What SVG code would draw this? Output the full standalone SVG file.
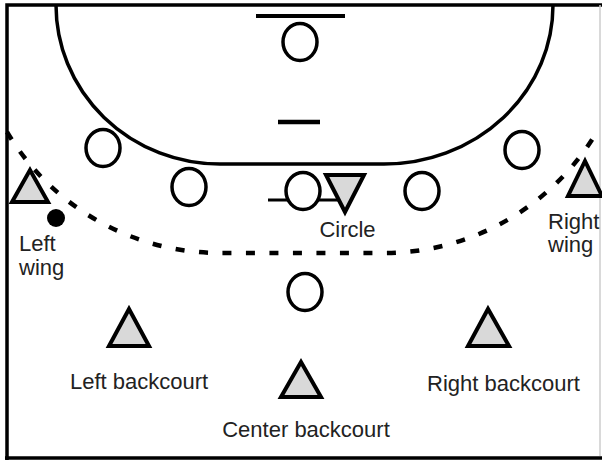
<svg xmlns="http://www.w3.org/2000/svg" width="602" height="460" viewBox="0 0 602 460">
<style>
.line{fill:none;stroke:#000;stroke-width:3.5}
.dash{fill:none;stroke:#000;stroke-width:4.5;stroke-dasharray:9 14.5}
.def{fill:#fff;stroke:#000;stroke-width:3.5}
.att{fill:#d9d9d9;stroke:#000;stroke-width:4;stroke-linejoin:miter}
.lbl{font-family:"Liberation Sans",Arial,sans-serif;font-size:22px;fill:#222}
</style>
<rect x="0" y="0" width="602" height="460" fill="#fff"/>
<g id="frame">
<path d="M7 460 V5 H602" class="line" stroke-width="3"/>
<line x1="5" y1="458" x2="602" y2="458" stroke="#000" stroke-width="3.5"/>
<line x1="600" y1="5" x2="600" y2="456" stroke="#ccc" stroke-width="1.5"/>
</g>
<g id="court">
<path d="M56 5 A164 159 0 0 0 220 164 L384 164 A169 159 0 0 0 553 5" class="line"/>
<path d="M7 132 A248 248 0 0 0 220 253 L384 253 A248 248 0 0 0 598 130" class="dash"/>
<line x1="256" y1="16" x2="345" y2="16" stroke="#000" stroke-width="4"/>
<line x1="278" y1="122" x2="320" y2="122" stroke="#000" stroke-width="4.5"/>
</g>
<g id="connectors">
<line x1="268" y1="200" x2="338" y2="200" stroke="#000" stroke-width="3"/>
</g>
<g id="goalkeeper"><ellipse cx="300" cy="42" rx="17" ry="18.5" class="def"/></g>
<g id="def1"><ellipse cx="103" cy="148" rx="17" ry="18.5" class="def"/></g>
<g id="def2"><ellipse cx="189" cy="187" rx="17" ry="18.5" class="def"/></g>
<g id="def3"><ellipse cx="303" cy="191" rx="17" ry="18.5" class="def"/></g>
<g id="def4"><ellipse cx="422" cy="191" rx="17" ry="18.5" class="def"/></g>
<g id="def5"><ellipse cx="522" cy="150" rx="17" ry="18.5" class="def"/></g>
<g id="def6"><ellipse cx="305" cy="292" rx="17" ry="18.5" class="def"/></g>
<g id="circle-player">
<polygon points="326,175 364,175 345,212" class="att"/>
<text x="347.5" y="237" text-anchor="middle" class="lbl">Circle</text>
</g>
<g id="left-wing">
<polygon points="12,202 48,202 30,170" class="att"/>
<circle cx="56" cy="218" r="9" fill="#000"/>
<text x="19" y="251" class="lbl">Left</text>
<text x="19" y="275" class="lbl">wing</text>
</g>
<g id="right-wing">
<polygon points="568,196 602,196 585,161" class="att"/>
<text x="548" y="229" class="lbl">Right</text>
<text x="548" y="252" class="lbl">wing</text>
</g>
<g id="left-backcourt">
<polygon points="109,346 149,346 129,309" class="att"/>
<text x="139" y="389" text-anchor="middle" class="lbl">Left backcourt</text>
</g>
<g id="right-backcourt">
<polygon points="468,346 509,346 488,309" class="att"/>
<text x="503.5" y="391" text-anchor="middle" class="lbl">Right backcourt</text>
</g>
<g id="center-backcourt">
<polygon points="281,397 321,397 301,362" class="att"/>
<text x="306" y="437" text-anchor="middle" class="lbl">Center backcourt</text>
</g>
</svg>
